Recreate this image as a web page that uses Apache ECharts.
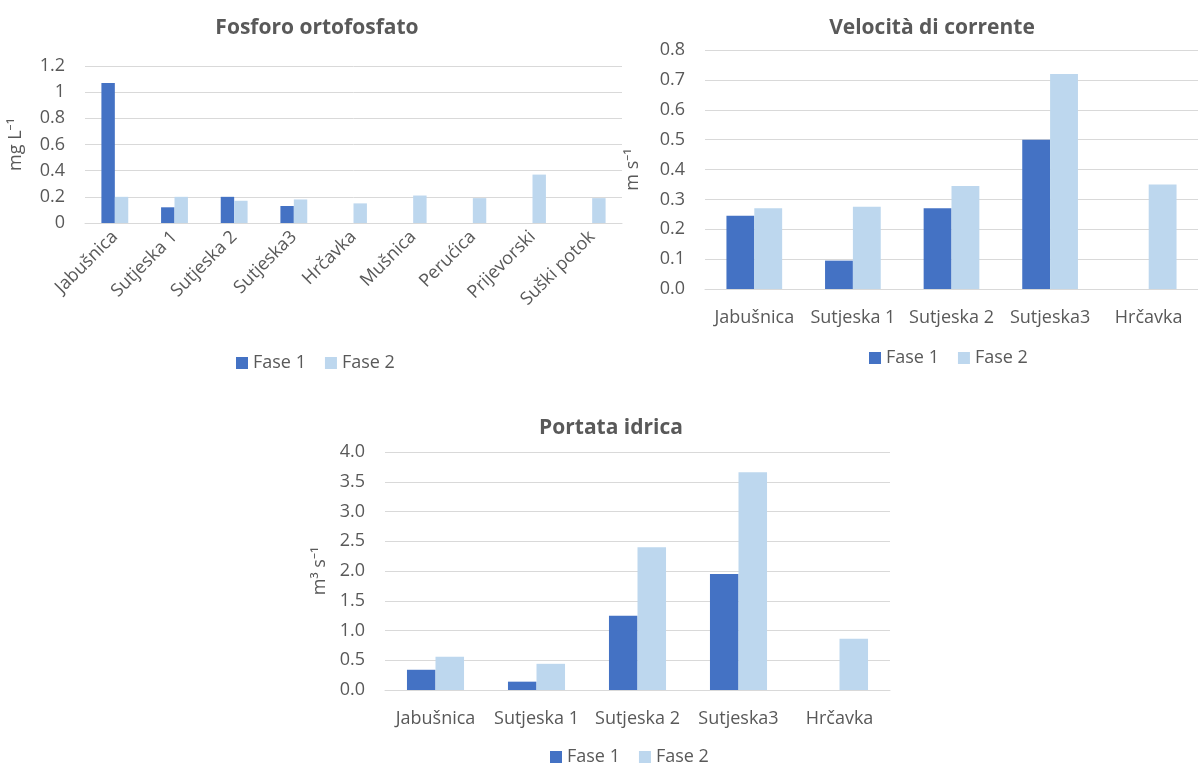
<!DOCTYPE html>
<html><head><meta charset="utf-8">
<script src="https://cdn.jsdelivr.net/npm/echarts@6/dist/echarts.min.js"></script>
<style>html,body{margin:0;padding:0;background:#fff}#c{width:1198px;height:763px}</style>
</head><body><div id="c"></div>
<script>
// ---- data ----
const fosforoCategories = ['Jabušnica','Sutjeska 1','Sutjeska 2','Sutjeska3','Hrčavka','Mušnica','Perućica','Prijevorski','Suški potok'];
const fosforoFase1 = [1.07, 0.12, 0.20, 0.13, null, null, null, null, null];
const fosforoFase2 = [0.20, 0.20, 0.17, 0.18, 0.15, 0.21, 0.19, 0.37, 0.19];

const siteCategories = ['Jabušnica','Sutjeska 1','Sutjeska 2','Sutjeska3','Hrčavka'];
const velocitaFase1 = [0.245, 0.095, 0.27, 0.50, null];
const velocitaFase2 = [0.27, 0.275, 0.345, 0.72, 0.35];
const portataFase1 = [0.34, 0.14, 1.25, 1.95, null];
const portataFase2 = [0.56, 0.44, 2.40, 3.66, 0.86];

const seriesNames = ['Fase 1', 'Fase 2'];
const titles = ['Fosforo ortofosfato', 'Velocità di corrente', 'Portata idrica'];
const yNames = ['mg L⁻¹', 'm s⁻¹', 'm³ s⁻¹'];
const yMax = [1.2, 0.8, 4.0];
const yStep = [0.2, 0.1, 0.5];

// ---- styles ----
const FONT = '"Open Sans", "Noto Sans", sans-serif';
const TXT = '#595959';
const GRID = '#d9d9d9';
const C1 = '#4472C4';
const C2 = '#BDD7EE';

const chart = echarts.init(document.getElementById('c'));

function yAxis(i, idx, gap, fmt) {
  return {
    type: 'value', gridIndex: idx, min: 0, max: yMax[i], interval: yStep[i],
    name: yNames[i], nameLocation: 'middle', nameGap: gap, nameRotate: 90,
    nameTextStyle: { color: TXT, fontFamily: FONT, fontSize: 18 },
    axisLine: { show: false }, axisTick: { show: false },
    axisLabel: { color: TXT, fontFamily: FONT, fontSize: 18, margin: 20,
      formatter: fmt ? (v) => v.toFixed(1) : undefined },
    splitLine: { lineStyle: { color: GRID, width: 1 } }
  };
}
function xAxis(cats, idx, rotate, margin) {
  return {
    type: 'category', gridIndex: idx, data: cats,
    axisLine: { lineStyle: { color: GRID, width: 1 } }, axisTick: { show: false },
    axisLabel: { color: TXT, fontFamily: FONT, fontSize: 18, interval: 0, rotate: rotate, margin: margin }
  };
}
function bars(name, data, color, idx, catGap) {
  return { type: 'bar', name: name, data: data, xAxisIndex: idx, yAxisIndex: idx,
    itemStyle: { color: color }, barGap: '0%', barCategoryGap: catGap };
}
function legend(left, top) {
  return { data: seriesNames, left: left, top: top, icon: 'rect', itemWidth: 12, itemHeight: 12,
    itemGap: 19, textStyle: { color: TXT, fontFamily: FONT, fontSize: 18 } };
}
function title(text, cx, top) {
  return { text: text, left: cx, top: top, textAlign: 'center',
    textStyle: { color: TXT, fontFamily: FONT, fontSize: 21, fontWeight: 'bold' } };
}

chart.setOption({
  animation: false,
  backgroundColor: '#fff',
  title: [ title(titles[0], 312, 13), title(titles[1], 927, 13), title(titles[2], 606, 413) ],
  legend: [ legend(231, 349), legend(864, 344), legend(545, 743) ],
  grid: [
    { left: 85, top: 66, width: 537, height: 157 },
    { left: 705, top: 50, width: 506, height: 239 },
    { left: 385, top: 452, width: 505, height: 238 }
  ],
  xAxis: [ xAxis(fosforoCategories, 0, 45, 11), xAxis(siteCategories, 1, 0, 20), xAxis(siteCategories, 2, 0, 20) ],
  yAxis: [ yAxis(0, 0, 60, false), yAxis(1, 1, 63, true), yAxis(2, 2, 56, true) ],
  series: [
    bars(seriesNames[0], fosforoFase1, C1, 0, '55%'),
    bars(seriesNames[1], fosforoFase2, C2, 0, '55%'),
    bars(seriesNames[0], velocitaFase1, C1, 1, '43.5%'),
    bars(seriesNames[1], velocitaFase2, C2, 1, '43.5%'),
    bars(seriesNames[0], portataFase1, C1, 2, '43.5%'),
    bars(seriesNames[1], portataFase2, C2, 2, '43.5%')
  ]
});
</script>
</body></html>
